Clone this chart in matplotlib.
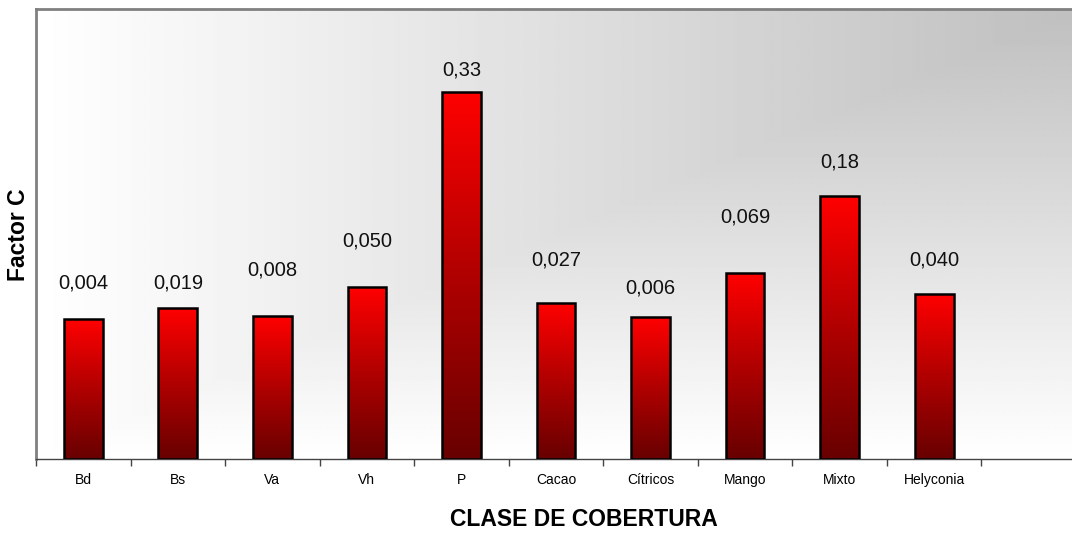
import numpy as np
import matplotlib
matplotlib.use("Agg")
import matplotlib.pyplot as plt
from matplotlib.colors import LinearSegmentedColormap

categories = ["Bd", "Bs", "Va", "Vh", "P", "Cacao", "Cítricos", "Mango", "Mixto", "Helyconia"]
bar_heights = [140, 151, 143, 172, 367, 156, 142, 186, 263, 165]
value_labels = ["0,004", "0,019", "0,008", "0,050", "0,33", "0,027", "0,006", "0,069", "0,18", "0,040"]
# gap between bar top and its value label (layout)
label_gaps = [36, 25, 46, 46, 22, 43, 29, 56, 34, 34]

plt.rcParams['font.family'] = ['Liberation Sans', 'DejaVu Sans']

fig = plt.figure(figsize=(10.72, 5.34), dpi=100)
ax = fig.add_axes([36/1072, 75/534, 1040/1072, 450/534])

n_slots = len(categories) + 1
ax.set_xlim(-0.5, n_slots - 0.5)
ax.set_ylim(0, 450)

# background gradient ("from corner", darkest at top-right)
gx = np.linspace(0, 1, 400)
gy = np.linspace(0, 1, 300)
X, Y = np.meshgrid(gx, gy)
d = np.maximum(1 - X, 1 - Y)
bg = 0.75 + 0.25 * d
ax.imshow(bg, cmap='gray', vmin=0, vmax=1, origin='lower', aspect='auto',
          extent=[-0.5, n_slots - 0.5, 0, 450], zorder=0, interpolation='bilinear')

x = np.arange(len(categories))
bars = ax.bar(x, bar_heights, width=0.41, facecolor='none', edgecolor='black',
              linewidth=1.8, zorder=3)

red_cmap = LinearSegmentedColormap.from_list('reds', ['#680000', '#b00000', '#ff0000'])
grad = np.linspace(0, 1, 256).reshape(-1, 1)
for b in bars:
    x0, y0, w, h = b.get_x(), b.get_y(), b.get_width(), b.get_height()
    im = ax.imshow(grad, cmap=red_cmap, origin='lower', aspect='auto',
                   extent=[x0, x0 + w, y0, y0 + h], zorder=2, interpolation='bilinear')
    im.set_clip_path(b)

for b, lab, gap in zip(bars, value_labels, label_gaps):
    ax.text(b.get_x() + b.get_width() / 2, b.get_height() + gap, lab,
            ha='center', va='center', fontsize=14.5, color='#111111', zorder=4)

ax.set_xticks(np.arange(n_slots + 1) - 0.5)
ax.set_xticklabels([])
ax.set_xticks(x, minor=True)
ax.set_xticklabels(categories, minor=True, fontsize=10)
ax.tick_params(axis='x', which='major', length=5, width=1, color='#444444', direction='out')
ax.tick_params(axis='x', which='minor', length=0, pad=10)
ax.set_yticks([])

ax.spines['left'].set_color('#808080')
ax.spines['left'].set_linewidth(2)
ax.spines['top'].set_color('#808080')
ax.spines['top'].set_linewidth(2)
ax.spines['right'].set_visible(False)
ax.spines['bottom'].set_color('#444444')
ax.spines['bottom'].set_linewidth(1)

fig.text(584/1072, 1 - 519/534, "CLASE DE COBERTURA", ha='center', va='center',
         fontsize=16.5, fontweight='bold')
fig.text(19/1072, 1 - 235/534, "Factor C", ha='center', va='center', rotation=90,
         fontsize=16.5, fontweight='bold')

fig.savefig("out.png", dpi=100)
